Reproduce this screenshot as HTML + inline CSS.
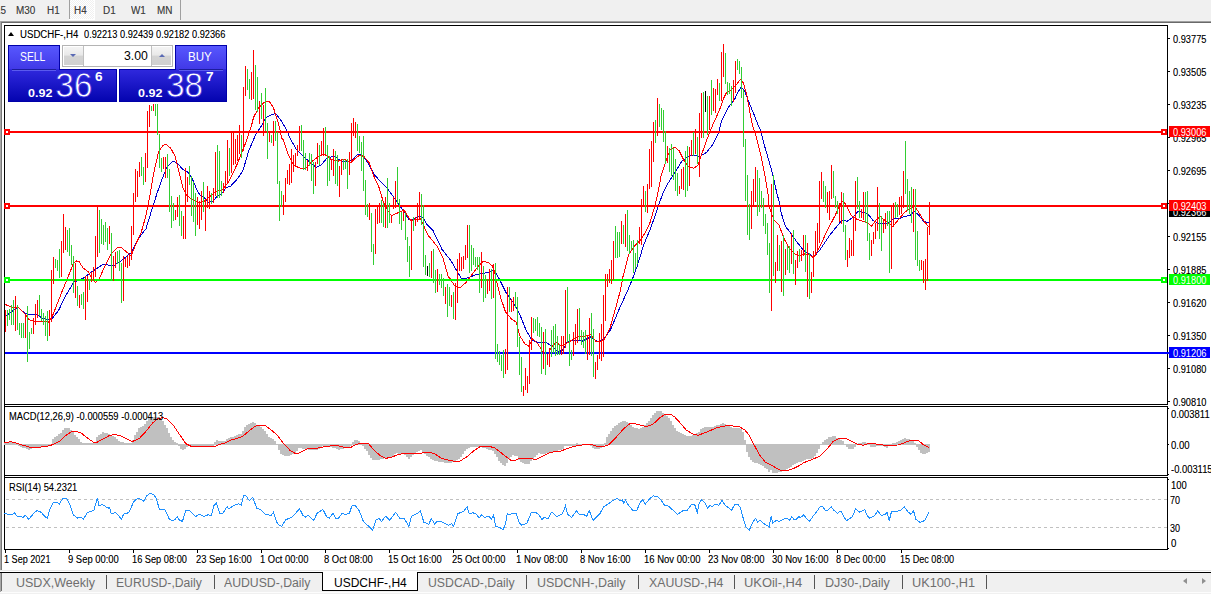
<!DOCTYPE html>
<html lang="en">
<head>
<meta charset="utf-8">
<title>USDCHF-,H4</title>
<style>
html,body{margin:0;padding:0;background:#fff;}
body{width:1211px;height:594px;position:relative;overflow:hidden;font-family:"Liberation Sans","DejaVu Sans",sans-serif;font-size:9px;color:#000;}
.a{position:absolute;}
.g{position:absolute;left:0;top:0;}
.x{position:absolute;white-space:nowrap;transform-origin:0 0;}
.x1{font-size:10px;line-height:10px;text-shadow:0 0 0 rgba(0,0,0,.35)}
.x2{font-size:12.3px;line-height:12.3px;color:#6e6e6e}
.lb{position:absolute;left:1169px;width:41px;height:11px;color:#fff;font-size:9px;line-height:11px;white-space:nowrap;}
.sep{position:absolute;top:575px;width:1px;height:14px;background:#555;}
</style>
</head>
<body>
<!-- top toolbar -->
<div class="a" style="left:0;top:0;width:1211px;height:21px;background:#f0f0f0"></div>
<div class="a" style="left:0;top:21px;width:1211px;height:1px;background:#a0a0a0"></div>
<div class="a" style="left:0;top:22px;width:1211px;height:1px;background:#696969"></div>
<div class="a" style="left:70px;top:0;width:24px;height:19px;background:#f8f8f8;background-image:conic-gradient(#fff 25%,#f0f0f0 0 50%,#fff 0 75%,#f0f0f0 0);background-size:2px 2px"></div>
<div class="a" style="left:69px;top:0;width:1px;height:19px;background:#a0a0a0"></div>
<div class="a" style="left:94px;top:0;width:1px;height:20px;background:#fff"></div>
<div class="a" style="left:69px;top:19px;width:26px;height:1px;background:#fff"></div>
<div class="a" style="left:180px;top:0;width:1px;height:20px;background:#a0a0a0"></div>
<!-- left window edge -->
<div class="a" style="left:0;top:21px;width:1px;height:550px;background:#a8a8a8"></div>
<div class="a" style="left:1px;top:22px;width:1px;height:549px;background:#787878"></div>
<!-- chart frames -->
<div class="a" style="left:4px;top:25px;width:1162px;height:378px;border:1px solid #000"></div>
<div class="a" style="left:4px;top:406px;width:1162px;height:68px;border:1px solid #000"></div>
<div class="a" style="left:4px;top:477px;width:1162px;height:71px;border:1px solid #000"></div>
<div class="a" style="left:4px;top:404px;width:1px;height:74px;background:#000"></div>
<!-- chart graphics -->
<svg class="g" width="1211" height="594" viewBox="0 0 1211 594" shape-rendering="crispEdges" fill="none">
<polyline points="5.5,316.4 13.9,309.8 18,307.3 25.5,313.9 31.3,314.4 37,314.8 43.6,318.9 51.1,319.7 58.5,310.6 65.1,296.6 69.2,290 73.4,282.4 83.3,278.2 93.2,270.8 103.1,264.2 109.7,265.3 114.7,265 121.3,260.9 127,255.9 131.2,252.6 137.8,239.4 146,228.7 152.6,207.2 156.8,194 160.9,182.2 166.7,167.4 172.5,161.6 176.6,162.4 182.4,169 187.3,171.5 192.3,178.9 197.2,190.5 200.5,195.9 204,197.3 208.1,202.4 213.1,201.3 217.2,195.8 221.3,194.2 226.3,187.6 230.4,186.4 237,179.3 242.8,171.1 248.6,151.3 255.2,135.6 262.6,124 265.9,117.6 271.7,114.6 275.8,113.5 280.8,120.1 286.6,130 289.9,137.9 296.5,149.6 303.1,156.2 309.7,162 316.3,167.3 321.3,165 327,157.9 334.5,156.2 341.1,161.2 347.7,161.7 352.6,159.5 357.6,154.6 361.7,154.6 367.5,162 374.1,174.4 381.5,182.6 387.3,188.4 393.9,197.5 398.9,204.9 404,211.5 409,219.6 413.9,218.8 419.7,216 423,218 427.1,224.6 432.9,230.4 442,249.4 451.1,260.9 456.8,270.8 461,277.9 462.6,278.9 468.4,277.6 475,275.1 481.6,273.4 488.2,272.6 494,270.1 499,278.4 506.4,293.3 513,302.3 519.6,313.9 526.2,330.4 532,340.3 537.8,342.3 546,342.3 552.6,346.9 558.4,351.9 562.5,350.2 567.5,341.6 574.1,340.6 582.4,341.1 590.6,337 598.1,342 604,339 610.6,329.6 618.9,309.8 627.9,290 632.1,279.9 637,266.7 643.6,245.2 651.1,227 657.7,208 662.6,194 667.6,183.9 675,172.3 681.6,161.6 688.2,156.1 694,155 699.8,156.6 706.4,152.5 713,144.2 718,134.3 722.1,119.5 727.9,107.9 735.3,98 736.9,94.1 741.1,87.1 744.4,90.8 749.3,103.1 755.1,117.2 758.4,125.9 760.1,129.4 765,147.5 770.8,167.4 774.1,180.6 777.4,195.9 778.9,200 781.3,213.2 785.5,226.4 791.3,233.9 797,242.1 803.6,250.4 810.2,254.5 813.5,257.5 820.2,249.5 830.1,234.7 841.6,220.6 847.4,221.1 853.2,217.3 858.1,211.2 863.1,212.4 868,214 873,220.6 878,223.1 884.6,223.9 889.5,222.3 894.5,218.2 899.4,219 904.4,216.5 910.2,215.2 914.3,211.2 918.4,214.9 924.2,221.8 929.2,222.3" stroke="#0000cd"/>
<polyline points="5.5,304.5 11.4,307.3 18,307.3 25.5,314.8 28.8,319.7 34.6,321.4 41.2,321 48.6,322.2 51.9,317.3 56.8,304.9 62.6,290 67.6,278.2 73.4,263.4 76.7,260.9 79.1,261.7 83.3,268.3 88.2,271.6 92.4,279.9 95.7,282.4 99,279.1 104.7,266.7 111.3,253.5 117.1,247.7 121.3,247.7 125.4,251 131.2,255.9 136.1,243.5 141.1,232.8 146,215.5 150.2,194 153.5,174 158.4,152.5 162.5,145.9 165.8,144.2 170.8,148.4 174.9,155.8 179.1,172.3 183.2,188.8 187.3,195.9 192.3,199.8 198.9,202.3 204,201.4 209.8,196.7 215.6,191.7 222.2,190.1 228.8,181.8 237,164.5 245.3,143.8 251.9,124 253.5,117.6 258.5,107.7 264.3,102.4 269.2,101.4 273.4,107.7 277.5,120.1 280,130 281.6,137.9 283.3,139.7 288.2,154.6 293.2,164.5 298.1,167.3 303.1,168.9 307.2,167.3 311.3,162 318,157 323.7,154.1 327,155.7 331.2,159.5 337.8,161.2 344.4,159.5 351,162.3 355.9,157.9 360.1,155 364.2,156.7 369.2,162.8 374.1,176.8 379.1,187.6 383.2,201.6 387.3,209.9 391.4,215.7 397.2,213.2 404,209.9 407.3,215.5 410.6,220.5 415.6,219.6 420.5,218.8 424.6,227.9 428.8,236.2 437,246.1 442.8,257.6 446.1,269.2 448.6,277.9 449.4,277.6 455.2,286.6 460.2,287.5 465.9,282.5 473.4,272.6 478.3,266 483.3,261.3 488.2,262.6 492.4,265.9 494.8,272.5 495.7,277.9 500.6,297.4 505.6,312.2 511.3,318.8 516.3,322.2 519.6,335.4 524.6,343.6 528.7,346.1 532.8,338.7 537.8,343.6 542.7,351.9 547.7,354.4 551.8,346.9 555.9,342.3 561.7,346.1 567.5,342.8 574.1,338.7 579.1,336.2 585.7,336.2 590.6,334.5 595.6,341.1 599.7,342 604,340.3 609.8,328.8 615.6,308.2 620.5,290 623,276.6 628.8,254.3 633.7,246.8 639.5,241.1 645.3,232.8 650.2,222.1 655.2,204.7 657.7,194 661,176.4 665.9,160.8 670.1,150 675,147.1 679.1,150.8 684.1,160.8 689.1,167.4 694,168.2 698.1,164.9 701.4,155 706.4,140.9 713,124.4 719.6,109.6 723.7,98 726.2,93.2 731.2,89.9 736.1,85 740.3,79.5 743.6,83.3 746.9,95.7 750.2,113.9 752.6,125.9 755.9,136 760.9,155.8 765,175.6 768.3,195.9 769,206.6 773.9,219.8 778.9,224.8 783.8,238 788.8,247.9 794.6,253.7 799.5,256.2 805.3,253.7 810.2,255.3 813.5,257.8 818.5,249.5 826.8,231.4 835,215.7 840.8,203.3 843.3,200.8 846.6,205.8 851.5,215.7 856.5,219 863.1,221.5 867.2,222.3 871.3,226.4 876.3,219.8 880.4,216.5 886.2,221.5 892.8,226.4 897.8,220.6 904.4,212.4 911,208.3 915.1,206.6 919.2,213.2 924.2,221.5 929.2,227.3" stroke="#f00"/>
<path d="M5 132H1167M5 206H1167" stroke="#f00" stroke-width="2"/>
<path d="M5 280H1167" stroke="#0f0" stroke-width="2"/>
<path d="M5 353H1169" stroke="#00f" stroke-width="2"/>
<rect x="5" y="130" width="4" height="4" stroke="#f00" stroke-width="2" fill="#fff"/>
<rect x="1162" y="130" width="4" height="4" stroke="#f00" stroke-width="2" fill="#fff"/>
<rect x="5" y="204" width="4" height="4" stroke="#f00" stroke-width="2" fill="#fff"/>
<rect x="1162" y="204" width="4" height="4" stroke="#f00" stroke-width="2" fill="#fff"/>
<rect x="5" y="278" width="4" height="4" stroke="#0f0" stroke-width="2" fill="#fff"/>
<rect x="1162" y="278" width="4" height="4" stroke="#0f0" stroke-width="2" fill="#fff"/>
<path d="M7.5 310V326M9.5 309V320M11.5 305V325M13.5 300V325M17.5 305V330M19.5 323V335M21.5 323V338M23.5 323V338M27.5 306V362M29.5 332V349M31.5 328V334M39.5 295V316M41.5 309V321M43.5 313V325M45.5 316V336M47.5 311V341M55.5 259V268M57.5 260V271M59.5 249V278M67.5 230V252M69.5 228V256M71.5 245V265M73.5 256V293M77.5 286V306M81.5 294V305M83.5 292V309M89.5 279V290M99.5 210V253M101.5 219V244M103.5 225V245M105.5 222V242M107.5 228V250M111.5 233V281M117.5 251V264M119.5 250V271M121.5 263V303M141.5 157V176M143.5 167V185M151.5 106V111M155.5 104V116M157.5 104V135M159.5 134V168M161.5 158V172M167.5 154V178M169.5 169V212M171.5 196V228M173.5 203V221M179.5 195V226M181.5 211V236M189.5 166V185M191.5 176V216M193.5 182V222M195.5 193V236M203.5 182V212M211.5 193V204M217.5 145V198M219.5 151V198M221.5 181V196M229.5 148V176M241.5 135V158M247.5 69V90M249.5 79V99M255.5 65V110M257.5 77V112M261.5 93V119M265.5 88V131M267.5 123V159M271.5 135V143M275.5 121V141M277.5 132V184M279.5 181V221M281.5 191V207M301.5 125V151M303.5 140V170M305.5 153V170M309.5 153V166M311.5 154V181M313.5 162V194M319.5 145V165M325.5 127V154M327.5 145V186M329.5 156V181M335.5 151V184M337.5 155V186M343.5 159V170M345.5 160V169M347.5 159V189M357.5 124V151M359.5 136V153M361.5 142V171M363.5 136V191M365.5 180V215M367.5 204V217M371.5 213V252M373.5 244V265M381.5 200V223M383.5 203V227M387.5 178V228M389.5 203V223M397.5 167V204M399.5 199V224M401.5 212V230M405.5 213V240M407.5 237V262M409.5 246V277M413.5 217V231M421.5 194V225M423.5 205V267M425.5 255V275M429.5 263V277M433.5 249V283M435.5 270V293M439.5 274V285M441.5 274V288M443.5 278V296M447.5 284V317M449.5 287V306M453.5 292V319M469.5 225V273M471.5 245V271M473.5 248V265M475.5 257V267M477.5 257V270M479.5 257V293M483.5 266V302M485.5 275V298M491.5 269V299M495.5 263V359M497.5 344V362M499.5 351V365M501.5 355V371M503.5 350V378M509.5 287V312M515.5 292V308M517.5 297V347M519.5 337V375M521.5 357V392M533.5 318V333M535.5 319V331M537.5 317V336M539.5 323V337M541.5 327V374M545.5 329V375M551.5 330V357M553.5 326V353M555.5 324V356M557.5 336V355M559.5 344V355M567.5 287V342M569.5 334V366M571.5 350V360M579.5 308V340M581.5 330V345M583.5 332V348M585.5 330V354M591.5 313V356M593.5 329V377M615.5 226V258M617.5 232V258M619.5 232V257M623.5 225V244M627.5 210V251M629.5 235V254M631.5 241V250M633.5 240V273M635.5 253V269M637.5 240V264M645.5 191V212M655.5 120V143M659.5 104V127M661.5 108V130M663.5 110V142M665.5 131V164M669.5 148V172M671.5 144V176M673.5 148V180M675.5 159V191M677.5 173V196M685.5 151V197M687.5 146V191M693.5 132V156M697.5 137V164M703.5 92V138M707.5 96V135M711.5 80V115M719.5 83V101M725.5 53V84M727.5 82V95M729.5 83V94M731.5 86V106M737.5 59V70M739.5 61V74M741.5 67V98M743.5 90V147M745.5 139V201M747.5 175V235M749.5 204V240M757.5 170V216M759.5 178V212M761.5 191V208M763.5 198V226M765.5 214V234M767.5 223V255M769.5 243V293M773.5 175V276M779.5 245V271M783.5 235V296M787.5 246V270M789.5 246V273M793.5 230V274M799.5 249V262M805.5 235V272M809.5 253V299M823.5 181V202M825.5 186V208M833.5 171V198M835.5 196V208M837.5 201V214M843.5 193V232M845.5 225V260M857.5 177V209M859.5 201V218M865.5 192V223M867.5 191V241M869.5 233V260M879.5 203V239M881.5 216V251M887.5 211V226M889.5 211V273M895.5 202V218M897.5 204V217M905.5 141V194M907.5 179V211M909.5 191V214M911.5 187V223M915.5 189V260M917.5 231V266M919.5 260V271" stroke="#32cd32"/>
<path d="M5.5 310V332M15.5 296V331M25.5 315V338M33.5 318V334M35.5 304V325M37.5 300V318M49.5 310V336M51.5 270V322M53.5 257V284M61.5 241V277M63.5 214V253M65.5 227V250M75.5 263V298M79.5 295V308M85.5 276V320M87.5 276V302M91.5 272V282M93.5 267V281M95.5 236V277M97.5 206V257M109.5 226V244M113.5 256V281M115.5 252V268M123.5 256V301M125.5 258V267M127.5 256V268M129.5 255V266M131.5 226V260M133.5 193V235M135.5 169V202M137.5 171V197M139.5 162V177M145.5 153V182M147.5 111V168M149.5 105V127M153.5 104V111M163.5 157V169M165.5 157V178M175.5 210V220M177.5 197V217M183.5 216V239M185.5 168V239M187.5 177V202M197.5 197V225M199.5 201V229M201.5 191V220M205.5 199V231M207.5 186V208M209.5 191V209M213.5 188V203M215.5 152V196M223.5 183V193M225.5 171V189M227.5 140V184M231.5 133V173M233.5 133V165M235.5 139V164M237.5 135V161M239.5 125V154M243.5 87V151M245.5 66V96M251.5 72V100M253.5 50V99M259.5 101V124M263.5 105V136M269.5 132V142M273.5 121V146M283.5 195V215M285.5 178V202M287.5 170V184M289.5 164V185M291.5 149V183M293.5 155V172M295.5 153V167M297.5 145V156M299.5 126V151M307.5 160V171M315.5 162V186M317.5 143V164M321.5 141V156M323.5 128V156M331.5 159V170M333.5 149V176M339.5 166V197M341.5 159V175M349.5 152V175M351.5 123V161M353.5 118V136M355.5 122V138M369.5 203V220M375.5 209V254M377.5 207V224M379.5 203V223M385.5 197V228M391.5 216V223M393.5 197V209M395.5 181V208M403.5 209V221M411.5 219V270M415.5 217V226M417.5 203V222M419.5 192V220M431.5 251V278M437.5 269V292M445.5 287V304M451.5 295V307M455.5 283V320M457.5 259V303M459.5 253V271M461.5 257V271M463.5 256V269M465.5 245V260M467.5 225V258M481.5 252V288M487.5 279V294M489.5 269V291M493.5 264V298M505.5 349V374M507.5 287V370M511.5 299V312M513.5 297V311M523.5 386V396M525.5 368V390M527.5 376V393M529.5 340V384M531.5 317V350M543.5 332V369M547.5 354V365M549.5 348V367M561.5 336V355M563.5 336V354M565.5 290V348M573.5 332V356M575.5 324V345M577.5 309V343M587.5 335V360M589.5 318V355M595.5 362V379M597.5 355V370M599.5 333V359M601.5 324V361M603.5 295V357M605.5 274V321M607.5 274V287M609.5 269V283M611.5 260V284M613.5 241V280M621.5 221V244M625.5 214V247M639.5 227V244M641.5 199V245M643.5 186V207M647.5 184V213M649.5 149V189M651.5 141V187M653.5 122V162M657.5 98V136M667.5 146V163M679.5 186V194M681.5 169V189M683.5 167V190M689.5 147V186M691.5 140V156M695.5 129V154M699.5 113V177M701.5 93V138M709.5 96V130M713.5 88V111M715.5 89V113M717.5 79V95M721.5 52V101M723.5 44V77M733.5 80V102M735.5 61V93M751.5 191V229M753.5 179V207M755.5 167V202M771.5 184V311M775.5 262V283M777.5 235V271M781.5 241V292M785.5 249V275M791.5 233V264M795.5 260V285M797.5 251V268M801.5 250V261M803.5 235V256M807.5 243V297M811.5 272V293M813.5 251V277M815.5 231V256M817.5 223V251M819.5 181V243M821.5 172V199M827.5 192V213M829.5 191V220M831.5 165V199M839.5 203V222M841.5 192V224M847.5 250V267M849.5 238V258M851.5 240V256M853.5 218V256M855.5 181V231M861.5 209V218M863.5 192V220M871.5 240V256M873.5 232V244M875.5 223V239M877.5 187V231M883.5 220V233M885.5 213V229M891.5 207V269M893.5 203V227M899.5 197V215M901.5 196V214M903.5 171V208M913.5 189V232M921.5 260V270M923.5 261V283M925.5 259V290M927.5 227V281M929.5 202V235" stroke="#f00"/>
<path d="M427.5 266V276M705.5 91V112" stroke="#000"/>
<path d="M5 442V445M7 442V445M9 442V445M11 442V445M13 442V445M15 442V445M17 443V445M19 444V446M21 444V447M23 444V448M25 444V448M27 444V449M29 444V450M31 444V449M33 444V448M35 444V448M37 444V447M39 444V447M41 444V447M43 444V446M45 444V446M47 444V446M49 444V445M51 444V445M53 439V445M55 437V445M57 436V445M59 434V445M61 433V445M63 430V445M65 428V445M67 428V445M69 428V445M71 430V445M73 432V445M75 435V445M77 437V445M79 439V445M81 442V445M83 443V445M85 443V445M87 443V445M89 443V445M91 443V445M93 443V445M95 443V445M97 437V445M99 435V445M101 434V445M103 432V445M105 433V445M107 433V445M109 434V445M111 435V445M113 436V445M115 437V445M117 439V445M119 441V445M121 442V445M123 442V445M125 443V445M127 443V445M129 443V445M131 443V445M133 440V445M135 435V445M137 432V445M139 428V445M141 427V445M143 426V445M145 424V445M147 421V445M149 418V445M151 417V445M153 417V445M155 417V445M157 417V445M159 417V445M161 419V445M163 421V445M165 425V445M167 428V445M169 433V445M171 437V445M173 440V445M175 442V445M177 443V445M179 444V446M181 444V449M183 444V450M185 444V449M187 444V447M189 444V446M191 444V446M193 444V446M195 444V446M197 444V446M199 444V446M201 444V446M203 444V446M205 444V446M207 444V446M209 444V446M211 444V446M213 444V446M215 442V445M217 440V445M219 441V445M221 441V445M223 441V445M225 441V445M227 439V445M229 438V445M231 437V445M233 437V445M235 436V445M237 435V445M239 434V445M241 434V445M243 431V445M245 427V445M247 425V445M249 424V445M251 423V445M253 422V445M255 423V445M257 425V445M259 426V445M261 427V445M263 429V445M265 431V445M267 434V445M269 437V445M271 438V445M273 439V445M275 441V445M277 444V445M279 444V450M281 444V454M283 444V455M285 444V456M287 444V456M289 444V456M291 444V455M293 444V454M295 444V453M297 444V451M299 444V448M301 444V448M303 444V449M305 444V449M307 444V449M309 444V450M311 444V450M313 444V450M315 444V450M317 444V450M319 444V449M321 444V447M323 444V446M325 444V446M327 444V446M329 444V447M331 444V447M333 444V448M335 444V448M337 444V449M339 444V450M341 444V449M343 444V449M345 444V448M347 444V447M349 444V447M351 444V446M353 442V445M355 440V445M357 440V445M359 441V445M361 443V445M363 444V446M365 444V449M367 444V451M369 444V455M371 444V458M373 444V460M375 444V460M377 444V460M379 444V460M381 444V459M383 444V459M385 444V458M387 444V458M389 444V458M391 444V457M393 444V456M395 444V454M397 444V453M399 444V454M401 444V454M403 444V454M405 444V455M407 444V457M409 444V459M411 444V457M413 444V455M415 444V454M417 444V452M419 444V451M421 444V450M423 444V452M425 444V454M427 444V456M429 444V457M431 444V459M433 444V460M435 444V461M437 444V461M439 444V462M441 444V462M443 444V462M445 444V463M447 444V463M449 444V463M451 444V463M453 444V462M455 444V462M457 444V460M459 444V459M461 444V457M463 444V454M465 444V451M467 444V449M469 444V448M471 444V447M473 444V447M475 444V447M477 444V447M479 444V447M481 444V447M483 444V448M485 444V448M487 444V449M489 444V450M491 444V450M493 444V451M495 444V454M497 444V457M499 444V461M501 444V463M503 444V465M505 444V466M507 444V463M509 444V459M511 444V457M513 444V455M515 444V456M517 444V456M519 444V460M521 444V462M523 444V463M525 444V464M527 444V464M529 444V464M531 444V461M533 444V459M535 444V457M537 444V455M539 444V453M541 444V454M543 444V454M545 444V454M547 444V453M549 444V453M551 444V452M553 444V452M555 444V451M557 444V451M559 444V450M561 444V450M563 444V449M565 444V446M567 444V446M569 444V446M571 444V446M573 444V446M575 444V446M577 443V445M579 444V445M581 444V445M583 444V445M585 444V445M587 444V445M589 444V445M591 444V446M593 444V448M595 444V449M597 444V449M599 444V449M601 444V448M603 444V447M605 443V445M607 437V445M609 434V445M611 431V445M613 428V445M615 426V445M617 425V445M619 423V445M621 422V445M623 421V445M625 421V445M627 422V445M629 423V445M631 425V445M633 427V445M635 428V445M637 428V445M639 429V445M641 428V445M643 427V445M645 425V445M647 423V445M649 421V445M651 418V445M653 415V445M655 413V445M657 411V445M659 411V445M661 411V445M663 413V445M665 414V445M667 416V445M669 418V445M671 421V445M673 425V445M675 428V445M677 431V445M679 432V445M681 433V445M683 434V445M685 435V445M687 436V445M689 436V445M691 436V445M693 435V445M695 434V445M697 433V445M699 432V445M701 429V445M703 428V445M705 427V445M707 427V445M709 427V445M711 427V445M713 427V445M715 426V445M717 425V445M719 425V445M721 424V445M723 423V445M725 424V445M727 425V445M729 426V445M731 427V445M733 428V445M735 428V445M737 428V445M739 428V445M741 429V445M743 432V445M745 440V445M747 444V452M749 444V457M751 444V460M753 444V462M755 444V463M757 444V463M759 444V464M761 444V465M763 444V466M765 444V468M767 444V469M769 444V472M771 444V470M773 444V473M775 444V473M777 444V473M779 444V472M781 444V472M783 444V471M785 444V471M787 444V469M789 444V468M791 444V467M793 444V465M795 444V464M797 444V463M799 444V462M801 444V462M803 444V461M805 444V460M807 444V459M809 444V459M811 444V459M813 444V458M815 444V456M817 444V453M819 444V449M821 444V445M823 442V445M825 440V445M827 439V445M829 437V445M831 437V445M833 436V445M835 436V445M837 438V445M839 439V445M841 440V445M843 441V445M845 444V445M847 444V447M849 444V449M851 444V449M853 444V449M855 444V447M857 444V445M859 443V445M861 443V445M863 442V445M865 442V445M867 443V445M869 444V445M871 444V447M873 444V447M875 444V447M877 444V446M879 444V446M881 444V446M883 444V446M885 444V447M887 444V448M889 444V446M891 444V445M893 443V445M895 443V445M897 442V445M899 441V445M901 440V445M903 439V445M905 438V445M907 439V445M909 439V445M911 440V445M913 441V445M915 443V445M917 444V447M919 444V450M921 444V453M923 444V454M925 444V454M927 444V453M929 444V452" stroke="#c0c0c0" stroke-width="2"/>
<polyline points="4,442.8 10.6,441.7 15.6,442.8 22.2,445 30.4,447.3 37,447.4 45.3,446.6 53.5,444.5 60.2,440.7 66.8,434.6 71.7,431.6 76.7,431.3 81.6,433.4 88.2,438.7 93.2,442 96.5,442.5 103.1,439 109.7,435.4 114.7,434.6 119.6,435.4 126.2,438.7 132,441.7 139.4,438.4 146,431.3 152.6,423 157.6,418.9 162.5,417.5 167.5,419.2 174.1,426.3 180.7,436.2 185.7,443.6 191.4,446.4 204,446.4 214.7,446.4 220.5,444.1 225.5,442.8 230.4,440.3 237,438.4 242.8,436.2 248.6,431.3 255.2,426.3 260.2,425.1 265.1,425.5 270.1,429.1 276.7,434.6 283.3,443.3 289.9,450.2 294.8,453.2 299,453.2 303.1,451.1 308,448.6 314.7,448.6 321.3,447.3 327.9,446.3 334.5,445.3 339.4,446.1 344.4,447.3 351,447.3 355.9,444.5 361.7,443.1 368.3,443.3 374.1,450.2 380.7,456 385.7,458.2 390.6,457.7 397.2,454.9 404,453.1 415.6,453.5 420.5,453.2 427.1,452.4 433.7,453.2 441.2,458.2 448.6,460.2 455.2,461.5 460.2,461 466.8,456.8 473.4,451.1 480,446.6 489.9,446.6 494.8,447.8 503.1,454.4 511.3,460.5 514.7,460.5 519.6,458.2 527.9,458.5 536.1,459.3 544.4,455.2 551,452.2 560.9,451.1 567.5,448.3 575.8,446.1 582.4,445 590.6,444.1 597.2,446.6 604,446.4 609,444.5 615.6,437.9 622.2,430.4 628.8,424.1 633.7,423.5 640.3,425.1 645.3,426.3 650.2,425.8 655.2,422.2 660.2,417.5 665.1,414.4 670.9,414.4 675,417.2 681.6,424.6 686.6,430.4 693.2,434.1 698.1,435.4 703.1,433.4 709.7,430.8 716.3,427.9 722.9,426.3 729.5,425.5 734.5,426.3 739.4,426.8 744.4,429.6 749.3,435.4 754.3,445.3 759.2,454.4 765,461.8 772.5,465.9 780.7,470.4 789,470.1 795.6,467.6 800.5,464.8 804,462.6 810.2,460.2 819.3,456.5 826.8,449.4 833.4,441.2 838.3,438.7 845.8,438.4 851.5,441.2 857.3,444 863.1,445.3 869.7,443.3 876.3,444 882.9,445 889.5,445.3 897.8,445 902.7,443.6 907.7,441.2 912.6,440.3 918.4,440.3 922.5,444 929.2,447.8" stroke="#f00"/>
<path d="M6 499.5H1167M6 527.5H1167" stroke="#c0c0c0" stroke-dasharray="3 3"/>
<polyline points="4,513.7 9,514.3 12.3,514.8 14.7,512.7 17.2,516.5 20.5,516.5 23,517.3 25.5,515.3 28.8,519.3 32.9,514.3 37,510.4 41.2,512.3 45.3,517 47.3,518.1 50.2,508.2 53.5,502.4 56.8,502.4 59.3,504.1 62.6,498.8 66.8,498.3 70.1,504.9 73.4,514.8 77.5,518.1 80.8,517.3 83.3,519.3 87.4,512.7 90.7,511.5 94,509.9 97.3,498.3 99,505.7 102.3,504.4 105.6,506.6 108,508.2 109.7,507.4 111.3,514 115.5,512.3 118.8,515.6 121.3,519.3 123.7,514 128.7,512.7 131.2,507.4 133.6,501.6 137.8,498.3 140.3,499.1 143.6,501.1 146.9,495.8 150.2,493.3 154.3,495 156.8,499.9 159.2,509 165,509.9 169.2,518.9 172.5,520.6 174.9,519.8 177.4,516.5 179.1,519.8 182.4,521.4 185.7,510.7 189,510.4 192.3,513.2 195.6,516.5 199.7,514.3 203.8,516.5 208.1,514.8 211.4,515.6 213.9,505.7 216.4,503.3 219.7,513.2 223,513.2 227.1,506.6 228.8,509 233.7,505.4 238.7,503.7 241.2,504.9 243.6,495.8 246.1,495.8 249.4,500.8 252.7,497.5 256.8,508.2 261,509.9 265.1,514.3 268.4,514.8 270.9,515.6 273.4,512.3 277.5,523.9 281.6,526.4 285.8,519.8 291.5,517.3 296.5,512.3 299.5,508.7 303.1,515.6 305.6,517 308,515.3 313.8,520.3 317.1,513.2 322.9,509.5 327,517.3 329.5,518.1 332.8,513.2 336.1,518.6 338.6,518.1 341.9,513.7 345.2,514.3 349.3,513.7 351.8,506.1 355.1,505.4 359.2,510.7 363.4,521.4 366.7,524.7 369.2,526.4 372.5,530.2 375.8,520.3 379.1,518.6 381.5,521.4 385.7,516.1 389.8,520.3 395.6,512.3 399.7,518.1 403.8,518.1 409,526.4 411.4,516.5 416.4,514 420.5,511 423.8,522.2 428.8,524.2 431.3,518.6 434.6,523.9 437.9,520.9 442.8,522.2 448.6,525.2 451.9,523.6 453.5,526.4 457.7,513.7 463.5,511.5 467.1,506.6 469.2,514 472.5,512.7 475.8,513.7 479.1,518.1 481.6,514.8 484.1,517.3 489.1,516.5 491.5,519.3 493.5,514.8 495.7,526.4 499.8,527.5 503.1,529.7 505.6,523.9 507.2,513.7 509.7,514.8 513,513.2 516.3,513.7 518.8,521.9 521.6,525.2 527,523.1 531.2,512.7 535.3,512 539.4,515.3 541.9,519.8 544.4,517.3 547.7,518.9 551.8,512 556.8,516.5 562.5,513.7 565.5,505.7 567.5,514.3 571.6,517.3 576.6,510.7 579.1,514.3 583.2,514 586.5,516.5 589.3,510.7 593.1,520.6 599.7,514 603.8,506.6 608.1,504.1 613.1,500.4 617.2,498.3 619.7,500.8 622.2,499.9 623.8,503.3 625.5,500.4 628.8,505.7 633.4,511 637,509.9 640.3,502.4 642.8,499.9 645.3,504.1 649.4,499.1 653.5,495.5 655.2,497.1 656.8,496.1 661,499.9 665.1,506.1 667.6,505.4 671.7,509 677.5,514.3 683.3,510.4 686.6,511 691.5,504.4 694.8,504.9 697.3,512.3 699,504.1 701.4,499.9 704.7,502.4 707.7,508.2 709.7,505.4 712.2,506.6 715.5,504.1 718.8,505.4 722.1,500.4 725.4,505.7 728.7,507.7 731.5,510.4 734.5,504.9 737.8,504.1 740.3,507.4 742.7,516.5 746,527.2 749.3,530.2 752.6,522.2 755.6,518.6 757.6,522.2 760.1,520.3 764.2,523.9 769.2,526.9 771.1,516.5 772.8,523.1 776.6,520.3 779.1,521.4 784,518.9 787.3,518.6 789.8,520.3 791.9,516.5 793.9,519.8 796.4,519.3 798.9,516.5 800.5,517.6 803.8,514.8 806.1,518.1 809.4,521.4 813.5,515.6 816.8,511.5 820.2,506.6 822.6,506.6 825.4,510.4 828.4,509.9 831.2,506.6 833.4,509.9 837.5,513.2 840.8,511 844.1,517.3 846.6,520.6 849.9,518.6 852.4,516.5 855.7,508.7 859.8,512.3 864.7,509.4 867.2,515.6 869.7,518.1 874.7,515.6 877.6,510.7 881.3,515.3 884.6,514.8 887,512.3 889.2,520.9 891.5,511.5 897.8,511 901.1,509.9 904.4,507 907.7,511.5 911,514.3 913.5,510.7 915.9,519.3 920.1,522.6 925,520.3 929.2,512" stroke="#1e90ff"/>
</svg>
<!-- axis ticks -->
<div class="a" style="left:1168px;top:38px;width:2px;height:1px;background:#000"></div>
<div class="a" style="left:1168px;top:71px;width:2px;height:1px;background:#000"></div>
<div class="a" style="left:1168px;top:104px;width:2px;height:1px;background:#000"></div>
<div class="a" style="left:1168px;top:137px;width:2px;height:1px;background:#000"></div>
<div class="a" style="left:1168px;top:170px;width:2px;height:1px;background:#000"></div>
<div class="a" style="left:1168px;top:203px;width:2px;height:1px;background:#000"></div>
<div class="a" style="left:1168px;top:236px;width:2px;height:1px;background:#000"></div>
<div class="a" style="left:1168px;top:269px;width:2px;height:1px;background:#000"></div>
<div class="a" style="left:1168px;top:302px;width:2px;height:1px;background:#000"></div>
<div class="a" style="left:1168px;top:335px;width:2px;height:1px;background:#000"></div>
<div class="a" style="left:1168px;top:368px;width:2px;height:1px;background:#000"></div>
<div class="a" style="left:1168px;top:401px;width:2px;height:1px;background:#000"></div>
<div class="a" style="left:1168px;top:408px;width:1px;height:1px;background:#000"></div>
<div class="a" style="left:1168px;top:444px;width:1px;height:1px;background:#000"></div>
<div class="a" style="left:1168px;top:474px;width:1px;height:1px;background:#000"></div>
<div class="a" style="left:1168px;top:479px;width:1px;height:1px;background:#000"></div>
<div class="a" style="left:1168px;top:548px;width:1px;height:1px;background:#000"></div>
<div class="a" style="left:5px;top:550px;width:1px;height:3px;background:#000"></div>
<div class="a" style="left:69px;top:550px;width:1px;height:3px;background:#000"></div>
<div class="a" style="left:133px;top:550px;width:1px;height:3px;background:#000"></div>
<div class="a" style="left:197px;top:550px;width:1px;height:3px;background:#000"></div>
<div class="a" style="left:261px;top:550px;width:1px;height:3px;background:#000"></div>
<div class="a" style="left:325px;top:550px;width:1px;height:3px;background:#000"></div>
<div class="a" style="left:389px;top:550px;width:1px;height:3px;background:#000"></div>
<div class="a" style="left:453px;top:550px;width:1px;height:3px;background:#000"></div>
<div class="a" style="left:517px;top:550px;width:1px;height:3px;background:#000"></div>
<div class="a" style="left:581px;top:550px;width:1px;height:3px;background:#000"></div>
<div class="a" style="left:645px;top:550px;width:1px;height:3px;background:#000"></div>
<div class="a" style="left:709px;top:550px;width:1px;height:3px;background:#000"></div>
<div class="a" style="left:773px;top:550px;width:1px;height:3px;background:#000"></div>
<div class="a" style="left:837px;top:550px;width:1px;height:3px;background:#000"></div>
<div class="a" style="left:901px;top:550px;width:1px;height:3px;background:#000"></div>
<!-- chart title -->
<div class="a" style="left:8px;top:32px;width:0;height:0;border-left:3.5px solid transparent;border-right:3.5px solid transparent;border-bottom:4px solid #000"></div>
<!-- one click trading panel -->
<div class="a" style="left:8px;top:45px;width:52px;height:25px;background:linear-gradient(#5858ff,#4038e6)"></div>
<div class="a" style="left:175px;top:45px;width:52px;height:25px;background:linear-gradient(#5858ff,#4038e6)"></div>
<div class="a" style="left:8px;top:69px;width:109px;height:33px;background:linear-gradient(#3029de,#0303ae)"></div>
<div class="a" style="left:119px;top:69px;width:108px;height:33px;background:linear-gradient(#3029de,#0303ae)"></div>
<svg class="g" width="240" height="110" viewBox="0 0 240 110" shape-rendering="crispEdges" fill="none" stroke="#0000a8"><path d="M8.5 45.5H59.5V69.5H116.5V101.5H8.5ZM175.5 45.5H226.5V101.5H119.5V69.5H175.5Z"/><path d="M12 69.5H56M179 69.5H223" stroke="#1c1c9c"/><path d="M12 70.5H56M179 70.5H223" stroke="#5a5aee"/><defs><linearGradient id="pg" gradientUnits="userSpaceOnUse" x1="0" y1="69" x2="0" y2="102"><stop offset="0" stop-color="#3029de"/><stop offset="1" stop-color="#0303ae"/></linearGradient></defs><g stroke="none" font-family="Liberation Sans,DejaVu Sans,sans-serif"><text transform="translate(55.62,96.5) scale(0.957,1)" font-size="34.5" fill="#fff" stroke="url(#pg)" stroke-width=".8">36</text><text transform="translate(166.17,96.5) scale(0.957,1)" font-size="34.5" fill="#fff" stroke="url(#pg)" stroke-width=".8">38</text></g></svg>
<div class="a" style="left:62px;top:45px;width:109px;height:20px;border:1px solid #b4b4b4;background:#fff"></div>
<div class="a" style="left:64px;top:47px;width:19px;height:18px;background:linear-gradient(#f4f4f4 0,#e9e9e9 45%,#d4d4d4 50%,#d0d0d0 100%)"></div>
<div class="a" style="left:83px;top:46px;width:1px;height:20px;background:#c0c0c0"></div>
<div class="a" style="left:152px;top:47px;width:19px;height:18px;background:linear-gradient(#f4f4f4 0,#e9e9e9 45%,#d4d4d4 50%,#d0d0d0 100%)"></div>
<div class="a" style="left:151px;top:46px;width:1px;height:20px;background:#c0c0c0"></div>
<div class="a" style="left:70px;top:54px;width:0;height:0;border-left:3px solid transparent;border-right:3px solid transparent;border-top:3px solid #5a6ab4"></div>
<div class="a" style="left:159px;top:54px;width:0;height:0;border-left:3px solid transparent;border-right:3px solid transparent;border-bottom:3px solid #5a6ab4"></div>
<!-- price axis labels -->
<div class="x x1" style="left:1172.64px;top:35.00px;transform:scaleX(0.925)">0.93775</div>
<div class="x x1" style="left:1172.64px;top:68.00px;transform:scaleX(0.925)">0.93505</div>
<div class="x x1" style="left:1172.64px;top:101.00px;transform:scaleX(0.925)">0.93235</div>
<div class="x x1" style="left:1172.64px;top:134.00px;transform:scaleX(0.925)">0.92965</div>
<div class="x x1" style="left:1172.64px;top:167.00px;transform:scaleX(0.925)">0.92695</div>
<div class="x x1" style="left:1172.64px;top:200.00px;transform:scaleX(0.925)">0.92425</div>
<div class="x x1" style="left:1172.64px;top:233.00px;transform:scaleX(0.925)">0.92155</div>
<div class="x x1" style="left:1172.64px;top:266.00px;transform:scaleX(0.925)">0.91885</div>
<div class="x x1" style="left:1172.64px;top:299.00px;transform:scaleX(0.925)">0.91620</div>
<div class="x x1" style="left:1172.64px;top:332.00px;transform:scaleX(0.925)">0.91350</div>
<div class="x x1" style="left:1172.64px;top:365.00px;transform:scaleX(0.925)">0.91080</div>
<div class="x x1" style="left:1172.64px;top:398.00px;transform:scaleX(0.925)">0.90810</div>
<!-- level labels -->
<div class="lb" style="top:206px;background:#000"></div>
<div class="x x1" style="left:1172.64px;top:208.00px;transform:scaleX(0.925);color:#fff;text-shadow:none">0.92366</div>
<div class="lb" style="top:126px;background:#f00"></div>
<div class="x x1" style="left:1172.64px;top:128.00px;transform:scaleX(0.925);color:#fff;text-shadow:none">0.93006</div>
<div class="lb" style="top:200px;background:#f00"></div>
<div class="x x1" style="left:1172.64px;top:202.00px;transform:scaleX(0.925);color:#fff;text-shadow:none">0.92403</div>
<div class="lb" style="top:274px;background:#0f0"></div>
<div class="x x1" style="left:1172.64px;top:276.00px;transform:scaleX(0.925);color:#fff;text-shadow:none">0.91800</div>
<div class="lb" style="top:347px;background:#00f"></div>
<div class="x x1" style="left:1172.64px;top:349.00px;transform:scaleX(0.925);color:#fff;text-shadow:none">0.91206</div>
<!-- indicator labels -->
<!-- date axis -->
<!-- bottom tab bar -->
<div class="a" style="left:0;top:570px;width:1211px;height:1px;background:#e8e8e8"></div>
<div class="a" style="left:0;top:572px;width:1211px;height:1px;background:#000"></div>
<div class="a" style="left:0;top:573px;width:1211px;height:19px;background:#f0f0f0"></div>
<div class="a" style="left:0;top:592px;width:1211px;height:1px;background:#fcfcfc"></div>
<div class="a" style="left:0;top:593px;width:1211px;height:1px;background:#f0f0f0"></div>
<div class="a" style="left:0;top:573px;width:1px;height:19px;background:#a8a8a8"></div>
<div class="a" style="left:1px;top:573px;width:1px;height:18px;background:#707070"></div>
<div class="a" style="left:322px;top:572px;width:94px;height:18px;background:#fff;border:1px solid #000;border-top:none"></div>
<div class="sep" style="left:106px"></div>
<div class="sep" style="left:214px"></div>
<div class="sep" style="left:526px"></div>
<div class="sep" style="left:638px"></div>
<div class="sep" style="left:734px"></div>
<div class="sep" style="left:814px"></div>
<div class="sep" style="left:902px"></div>
<div class="sep" style="left:986px"></div>
<div class="a" style="left:1183px;top:578px;width:0;height:0;border-top:3.5px solid transparent;border-bottom:3.5px solid transparent;border-right:4px solid #909090"></div>
<div class="a" style="left:1202px;top:578px;width:0;height:0;border-top:3.5px solid transparent;border-bottom:3.5px solid transparent;border-left:4px solid #909090"></div>
<!-- text labels -->
<div class="x x1" style="left:-4.84px;top:6.00px;transform:scaleX(0.990);color:#404040">15</div>
<div class="x x1" style="left:15.68px;top:6.00px;transform:scaleX(0.990);color:#404040">M30</div>
<div class="x x1" style="left:47.07px;top:6.00px;transform:scaleX(0.990);color:#404040">H1</div>
<div class="x x1" style="left:74.14px;top:6.00px;transform:scaleX(0.990);color:#404040">H4</div>
<div class="x x1" style="left:102.92px;top:6.00px;transform:scaleX(0.990);color:#404040">D1</div>
<div class="x x1" style="left:130.83px;top:6.00px;transform:scaleX(0.990);color:#404040">W1</div>
<div class="x x1" style="left:157.23px;top:6.00px;transform:scaleX(0.990);color:#404040">MN</div>
<div class="x x1" style="left:19.68px;top:30.00px;transform:scaleX(0.963)">USDCHF-,H4</div>
<div class="x x1" style="left:83.81px;top:30.00px;transform:scaleX(0.923)">0.92213</div>
<div class="x x1" style="left:119.91px;top:30.00px;transform:scaleX(0.923)">0.92439</div>
<div class="x x1" style="left:155.91px;top:30.00px;transform:scaleX(0.923)">0.92182</div>
<div class="x x1" style="left:191.81px;top:30.00px;transform:scaleX(0.923)">0.92366</div>
<div class="x x1" style="left:8.60px;top:412.25px;transform:scaleX(0.934)">MACD(12,26,9) -0.000559 -0.000413</div>
<div class="x x1" style="left:8.60px;top:483.25px;transform:scaleX(0.930)">RSI(14) 54.2321</div>
<div class="x x1" style="left:1170.63px;top:410.00px;transform:scaleX(0.943)">0.003811</div>
<div class="x x1" style="left:1170.92px;top:441.00px;transform:scaleX(0.957)">0.00</div>
<div class="x x1" style="left:1170.73px;top:465.00px;transform:scaleX(0.939)">-0.003115</div>
<div class="x x1" style="left:1170.69px;top:481.00px;transform:scaleX(0.942)">100</div>
<div class="x x1" style="left:1169.85px;top:496.00px;transform:scaleX(0.898)">70</div>
<div class="x x1" style="left:1169.85px;top:524.00px;transform:scaleX(0.898)">30</div>
<div class="x x1" style="left:1170.92px;top:539.00px;transform:scaleX(0.968)">0</div>
<div class="x x1" style="left:4.12px;top:555.00px;transform:scaleX(0.908)">1 Sep 2021</div>
<div class="x x1" style="left:67.63px;top:555.00px;transform:scaleX(0.942)">9 Sep 00:00</div>
<div class="x x1" style="left:131.81px;top:555.00px;transform:scaleX(0.923)">16 Sep 08:00</div>
<div class="x x1" style="left:196.03px;top:555.00px;transform:scaleX(0.938)">23 Sep 16:00</div>
<div class="x x1" style="left:260.30px;top:555.00px;transform:scaleX(0.939)">1 Oct 00:00</div>
<div class="x x1" style="left:324.13px;top:555.00px;transform:scaleX(0.944)">8 Oct 08:00</div>
<div class="x x1" style="left:387.90px;top:555.00px;transform:scaleX(0.938)">15 Oct 16:00</div>
<div class="x x1" style="left:451.93px;top:555.00px;transform:scaleX(0.933)">25 Oct 00:00</div>
<div class="x x1" style="left:516.08px;top:555.00px;transform:scaleX(0.961)">1 Nov 08:00</div>
<div class="x x1" style="left:580.03px;top:555.00px;transform:scaleX(0.938)">8 Nov 16:00</div>
<div class="x x1" style="left:644.09px;top:555.00px;transform:scaleX(0.949)">16 Nov 00:00</div>
<div class="x x1" style="left:707.93px;top:555.00px;transform:scaleX(0.950)">23 Nov 08:00</div>
<div class="x x1" style="left:772.13px;top:555.00px;transform:scaleX(0.950)">30 Nov 16:00</div>
<div class="x x1" style="left:836.24px;top:555.00px;transform:scaleX(0.919)">8 Dec 00:00</div>
<div class="x x1" style="left:900.02px;top:555.00px;transform:scaleX(0.909)">15 Dec 08:00</div>
<div class="x x2" style="left:16.38px;top:577.00px;transform:scaleX(1.016)">USDX,Weekly</div>
<div class="x x2" style="left:116.31px;top:577.00px;transform:scaleX(0.989)">EURUSD-,Daily</div>
<div class="x x2" style="left:224.20px;top:577.00px;transform:scaleX(0.996)">AUDUSD-,Daily</div>
<div class="x x2" style="left:333.82px;top:576.50px;transform:scaleX(0.977);color:#000">USDCHF-,H4</div>
<div class="x x2" style="left:428.30px;top:577.00px;transform:scaleX(0.998)">USDCAD-,Daily</div>
<div class="x x2" style="left:537.29px;top:577.00px;transform:scaleX(1.013)">USDCNH-,Daily</div>
<div class="x x2" style="left:649.05px;top:576.50px;transform:scaleX(0.999)">XAUUSD-,H4</div>
<div class="x x2" style="left:744.15px;top:577.00px;transform:scaleX(1.050)">UKOil-,H4</div>
<div class="x x2" style="left:825.38px;top:577.00px;transform:scaleX(1.021)">DJ30-,Daily</div>
<div class="x x2" style="left:912.36px;top:576.50px;transform:scaleX(1.036)">UK100-,H1</div>
<div class="x" style="left:20.37px;top:51.25px;transform:scaleX(0.863);font-size:12px;line-height:12px;color:#fff">SELL</div>
<div class="x" style="left:187.84px;top:51.25px;transform:scaleX(0.963);font-size:12px;line-height:12px;color:#fff">BUY</div>
<div class="x" style="left:123.69px;top:50.25px;transform:scaleX(1.022);font-size:12px;line-height:12px">3.00</div>
<div class="x" style="left:27.66px;top:88.00px;transform:scaleX(1.088);font-size:11.5px;line-height:11.5px;font-weight:bold;color:#fff">0.92</div>
<div class="x" style="left:137.66px;top:88.00px;transform:scaleX(1.088);font-size:11.5px;line-height:11.5px;font-weight:bold;color:#fff">0.92</div>
<div class="x" style="left:95.18px;top:70.75px;transform:scaleX(1.092);font-size:12.5px;line-height:12.5px;font-weight:bold;color:#fff">6</div>
<div class="x" style="left:205.73px;top:70.50px;transform:scaleX(1.092);font-size:12.5px;line-height:12.5px;font-weight:bold;color:#fff">7</div>
</body>
</html>
